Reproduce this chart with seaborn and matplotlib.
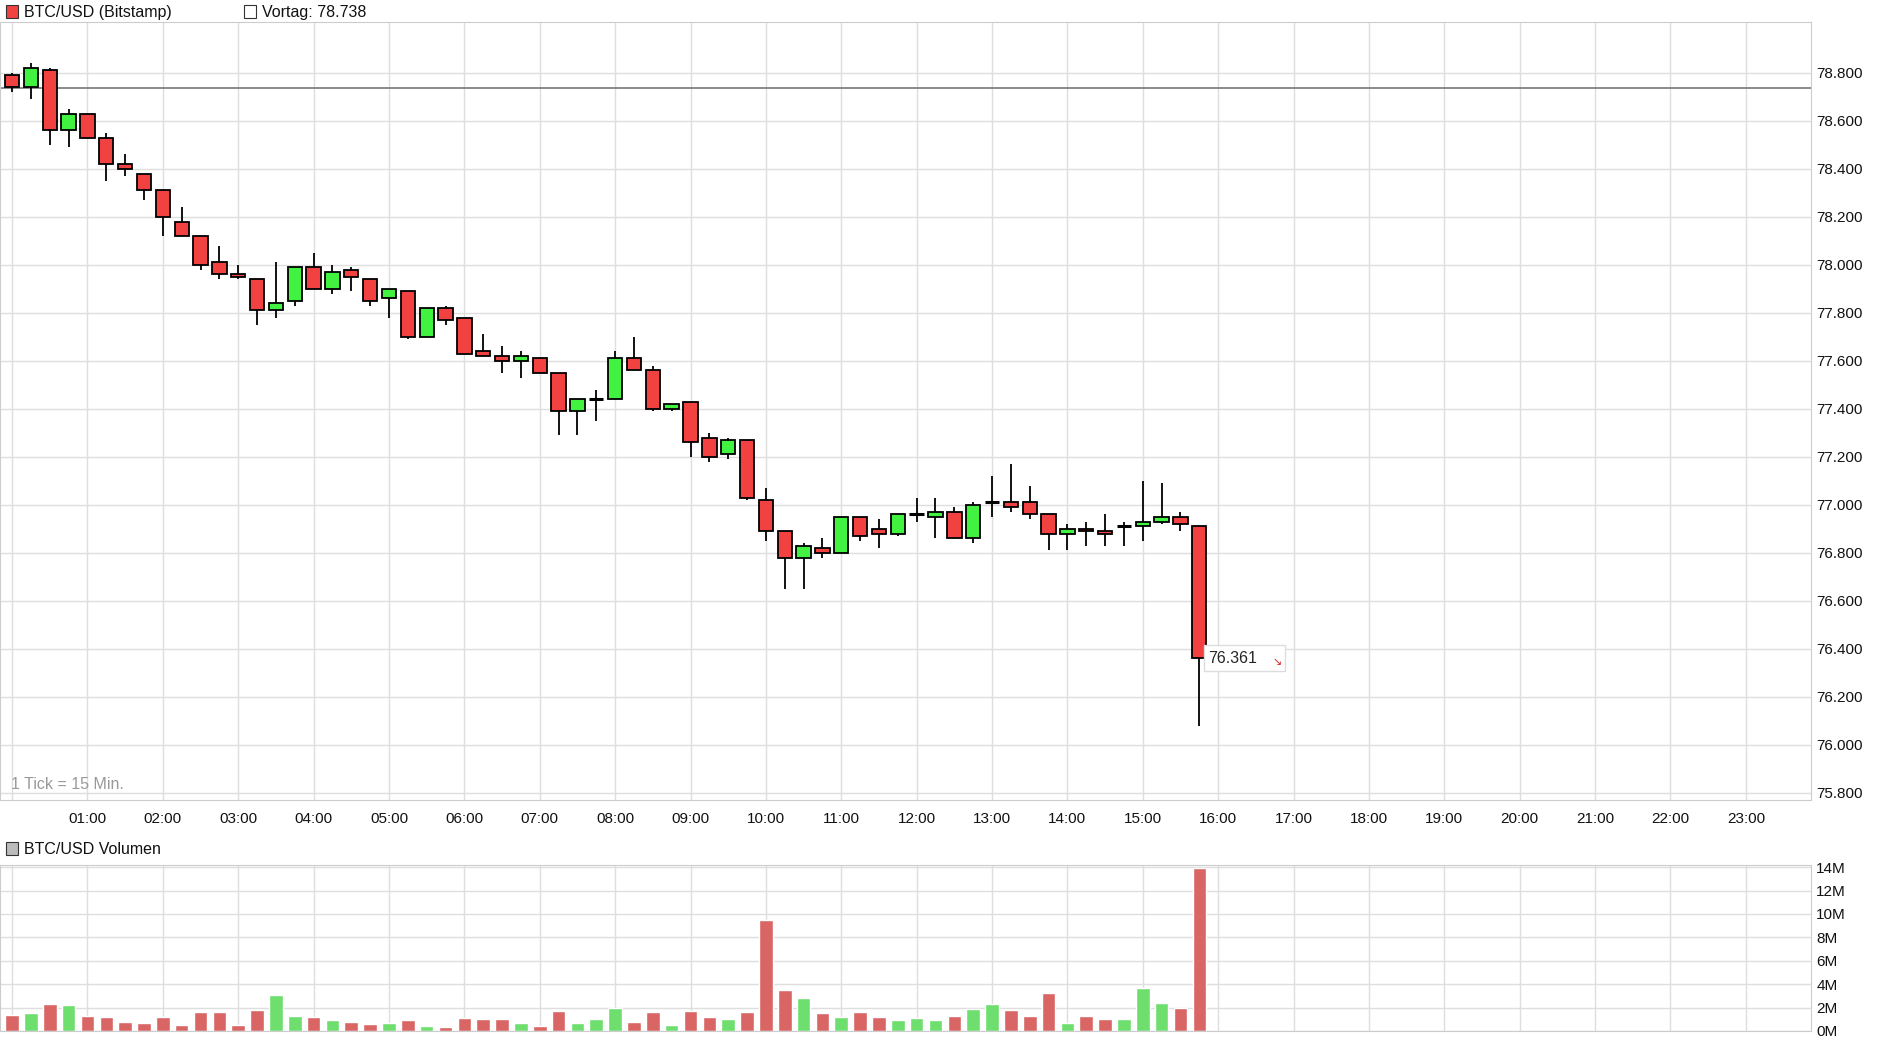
import numpy as np
import pandas as pd
import matplotlib
matplotlib.use("Agg")
import matplotlib.pyplot as plt
import seaborn as sns
from matplotlib.patches import Rectangle

sns.set_style("white")
plt.rcParams['font.family'] = ['Liberation Sans', 'DejaVu Sans']

times = pd.date_range("2024-01-01 00:00", periods=64, freq="15min")
opens = [78.79,78.74,78.81,78.56,78.63,78.53,78.42,78.38,78.31,78.18,78.12,78.01,77.96,77.94,77.81,77.85,
         77.99,77.90,77.98,77.94,77.86,77.89,77.70,77.82,77.78,77.64,77.62,77.60,77.61,77.55,77.39,77.44,
         77.44,77.61,77.56,77.40,77.43,77.28,77.21,77.27,77.02,76.89,76.78,76.82,76.80,76.95,76.90,76.88,
         76.96,76.95,76.97,76.86,77.01,77.01,77.01,76.96,76.88,76.90,76.89,76.91,76.91,76.93,76.95,76.91]
closes = [78.74,78.82,78.56,78.63,78.53,78.42,78.40,78.31,78.20,78.12,78.00,77.96,77.95,77.81,77.84,77.99,
          77.90,77.97,77.95,77.85,77.90,77.70,77.82,77.77,77.63,77.62,77.60,77.62,77.55,77.39,77.44,77.44,
          77.61,77.56,77.40,77.42,77.26,77.20,77.27,77.03,76.89,76.78,76.83,76.80,76.95,76.87,76.88,76.96,
          76.96,76.97,76.86,77.00,77.01,76.99,76.96,76.88,76.90,76.89,76.88,76.91,76.93,76.95,76.92,76.361]
highs = [78.80,78.84,78.82,78.65,78.63,78.55,78.46,78.38,78.31,78.24,78.12,78.08,78.00,77.94,78.01,77.99,
         78.05,78.00,77.99,77.94,77.90,77.89,77.82,77.83,77.78,77.71,77.66,77.64,77.61,77.55,77.44,77.48,
         77.64,77.70,77.58,77.42,77.43,77.30,77.28,77.27,77.07,76.89,76.84,76.86,76.95,76.95,76.94,76.96,
         77.03,77.03,76.99,77.01,77.12,77.17,77.08,76.96,76.92,76.93,76.96,76.93,77.10,77.09,76.97,76.91]
lows = [78.72,78.69,78.50,78.49,78.53,78.35,78.37,78.27,78.12,78.12,77.98,77.94,77.94,77.75,77.78,77.83,
        77.90,77.88,77.89,77.83,77.78,77.69,77.70,77.75,77.63,77.62,77.55,77.53,77.55,77.29,77.29,77.35,
        77.44,77.56,77.39,77.39,77.20,77.18,77.19,77.02,76.85,76.65,76.65,76.78,76.80,76.85,76.82,76.87,
        76.93,76.86,76.86,76.84,76.95,76.97,76.94,76.81,76.81,76.83,76.83,76.83,76.85,76.92,76.89,76.08]
volumes = [1.4,1.5,2.3,2.2,1.3,1.2,0.8,0.7,1.2,0.5,1.6,1.6,0.5,1.8,3.1,1.3,
           1.2,0.9,0.8,0.6,0.7,0.9,0.4,0.3,1.1,1.0,1.0,0.7,0.4,1.7,0.7,1.0,
           2.0,0.8,1.6,0.5,1.7,1.2,1.0,1.6,9.5,3.5,2.8,1.5,1.2,1.6,1.2,0.9,
           1.1,0.9,1.3,1.9,2.3,1.8,1.3,3.2,0.7,1.3,1.0,1.0,3.7,2.4,2.0,13.9]
prev_close = 78.738
hour_labels = [f"{h:02d}:00" for h in range(1, 24)]
price_ticks = [75.8 + 0.2 * i for i in range(16)]
vol_ticks = [0, 2, 4, 6, 8, 10, 12, 14]

df = pd.DataFrame({"t": times, "o": opens, "h": highs, "l": lows, "c": closes, "v": volumes})
df["x"] = (df["t"] - df["t"].iloc[0]).dt.total_seconds() / 3600.0
df["up"] = df["c"] >= df["o"]

RED, GREEN = "#f24141", "#41f241"
VRED, VGREEN = "#d96565", "#6ede6e"

fig = plt.figure(figsize=(18.8, 10.37), dpi=100)
ax = fig.add_axes([0.0, 1 - 660/855, 1506/1563, (660-18)/855])
axv = fig.add_axes([0.0, 1 - 850/855, 1506/1563, (850-713)/855])

xlim = (-0.16, 23.87)
for a in (ax, axv):
    a.set_xlim(*xlim)
    a.set_xticks(range(0, 24))
    a.grid(True, color="#dedede", lw=1)
    a.set_axisbelow(True)
    for s in a.spines.values():
        s.set_color("#cccccc")
    a.yaxis.tick_right()
    a.tick_params(axis="both", length=0, labelsize=11, colors="#111111")

ax.set_ylim(75.768, 79.012)
ax.set_yticks(price_ticks)
ax.set_yticklabels([f"{v:.3f}" for v in price_ticks])
ax.set_xticklabels([""] + hour_labels)
ax.tick_params(axis="x", pad=8)

w = 0.19
for r in df.itertuples():
    ax.vlines(r.x, r.l, r.h, color="black", lw=1.3, zorder=2)
    lo, hi = min(r.o, r.c), max(r.o, r.c)
    if hi - lo < 0.004:
        ax.hlines(r.o, r.x - w/2, r.x + w/2, color="black", lw=2.2, zorder=3)
    else:
        ax.add_patch(Rectangle((r.x - w/2, lo), w, hi - lo, facecolor=GREEN if r.up else RED,
                               edgecolor="black", lw=1.3, zorder=3))
ax.axhline(prev_close, color="#777777", lw=1.2, zorder=1)

last = df.iloc[-1]
ax.add_patch(Rectangle((last.x + 0.06, last.c - 0.055), 1.08, 0.11, facecolor="white",
                       edgecolor="#dddddd", lw=1, zorder=5))
ax.text(last.x + 0.12, last.c, f"{last.c:.3f}", fontsize=11.5, va="center", ha="left", zorder=6)
ax.text(last.x + 1.03, last.c - 0.015, "↘", fontsize=8, color="#e02020", va="center", ha="center", zorder=6)
ax.text(0.006, 0.015, "1 Tick = 15 Min.", transform=ax.transAxes, fontsize=11.5, color="#999999")

axv.bar(df["x"], df["v"], width=0.18, color=[VGREEN if u else VRED for u in df["up"]], zorder=2)
axv.set_xlim(*xlim)
axv.set_ylim(0, 14.2)
axv.set_yticks(vol_ticks)
axv.set_yticklabels([f"{v}M" for v in vol_ticks])
axv.set_xticklabels([])

def header(y, color, text, xx=0.003):
    fig.patches.append(Rectangle((xx, y - 0.006), 0.0065, 0.0125, transform=fig.transFigure,
                                 facecolor=color, edgecolor="#333333", lw=0.8))
    fig.text(xx + 0.0095, y, text, fontsize=11.5, va="center", ha="left", color="#111111")

header(1 - 10/855, RED, "BTC/USD (Bitstamp)")
header(1 - 10/855, "white", f"Vortag: {prev_close:.3f}", xx=203/1563)
header(1 - 700/855, "#bbbbbb", "BTC/USD Volumen")

fig.savefig("out.png", dpi=100, facecolor="white")
